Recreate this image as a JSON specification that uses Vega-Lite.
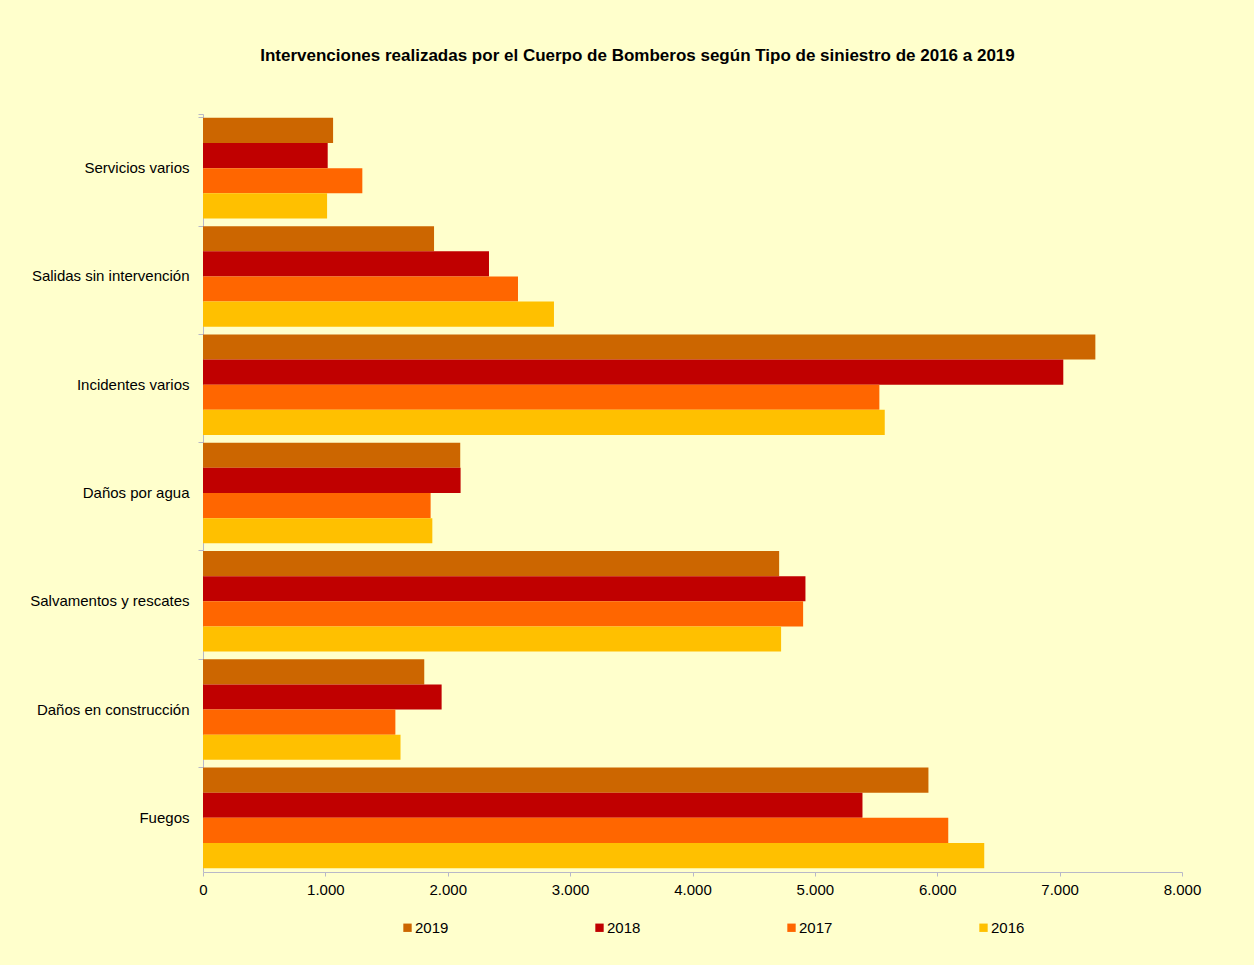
{
  "$schema": "https://vega.github.io/schema/vega-lite/v6.json",
  "width": 979,
  "height": 758,
  "autosize": {"type": "none"},
  "padding": {"left": 203, "top": 114, "right": 72, "bottom": 93},
  "background": "#FFFFCC",
  "title": {
    "text": "Intervenciones realizadas por el Cuerpo de Bomberos según Tipo de siniestro de 2016 a 2019",
    "fontSize": 17,
    "fontWeight": "bold",
    "font": "Liberation Sans",
    "color": "#000000",
    "offset": 42,
    "dx": -55
  },
  "data": {
    "values": [
      {"tipo": "Servicios varios", "anio": "2019", "valor": 1063},
      {"tipo": "Servicios varios", "anio": "2018", "valor": 1019},
      {"tipo": "Servicios varios", "anio": "2017", "valor": 1302},
      {"tipo": "Servicios varios", "anio": "2016", "valor": 1014},
      {"tipo": "Salidas sin intervención", "anio": "2019", "valor": 1888},
      {"tipo": "Salidas sin intervención", "anio": "2018", "valor": 2337},
      {"tipo": "Salidas sin intervención", "anio": "2017", "valor": 2574},
      {"tipo": "Salidas sin intervención", "anio": "2016", "valor": 2868},
      {"tipo": "Incidentes varios", "anio": "2019", "valor": 7292},
      {"tipo": "Incidentes varios", "anio": "2018", "valor": 7030},
      {"tipo": "Incidentes varios", "anio": "2017", "valor": 5527},
      {"tipo": "Incidentes varios", "anio": "2016", "valor": 5571},
      {"tipo": "Daños por agua", "anio": "2019", "valor": 2102},
      {"tipo": "Daños por agua", "anio": "2018", "valor": 2105},
      {"tipo": "Daños por agua", "anio": "2017", "valor": 1860},
      {"tipo": "Daños por agua", "anio": "2016", "valor": 1874},
      {"tipo": "Salvamentos y rescates", "anio": "2019", "valor": 4708},
      {"tipo": "Salvamentos y rescates", "anio": "2018", "valor": 4923},
      {"tipo": "Salvamentos y rescates", "anio": "2017", "valor": 4904},
      {"tipo": "Salvamentos y rescates", "anio": "2016", "valor": 4724},
      {"tipo": "Daños en construcción", "anio": "2019", "valor": 1808},
      {"tipo": "Daños en construcción", "anio": "2018", "valor": 1950},
      {"tipo": "Daños en construcción", "anio": "2017", "valor": 1572},
      {"tipo": "Daños en construcción", "anio": "2016", "valor": 1614},
      {"tipo": "Fuegos", "anio": "2019", "valor": 5928},
      {"tipo": "Fuegos", "anio": "2018", "valor": 5389},
      {"tipo": "Fuegos", "anio": "2017", "valor": 6090},
      {"tipo": "Fuegos", "anio": "2016", "valor": 6384}
    ]
  },
  "mark": {"type": "bar"},
  "encoding": {
    "y": {
      "field": "tipo",
      "type": "nominal",
      "sort": ["Servicios varios", "Salidas sin intervención", "Incidentes varios", "Daños por agua", "Salvamentos y rescates", "Daños en construcción", "Fuegos"],
      "scale": {"paddingInner": 0.071, "paddingOuter": 0.0355},
      "axis": {
        "title": null,
        "bandPosition": 0,
        "tickExtra": true,
        "tickSize": 5,
        "labelPadding": 9,
        "labelFontSize": 15,
        "labelFont": "Liberation Sans",
        "labelColor": "#000000",
        "domainColor": "#B8B8C8",
        "tickColor": "#B8B8C8",
        "labelLimit": 300
      }
    },
    "yOffset": {
      "field": "anio",
      "type": "nominal",
      "sort": ["2019", "2018", "2017", "2016"],
      "scale": {"paddingInner": 0, "paddingOuter": 0}
    },
    "x": {
      "field": "valor",
      "type": "quantitative",
      "scale": {"domain": [0, 8000], "nice": false},
      "axis": {
        "title": null,
        "values": [0, 1000, 2000, 3000, 4000, 5000, 6000, 7000, 8000],
        "format": ",d",
        "grid": false,
        "labelFlush": false,
        "tickSize": 4,
        "labelPadding": 6,
        "labelFontSize": 15,
        "labelFont": "Liberation Sans",
        "labelColor": "#000000",
        "domainColor": "#B8B8C8",
        "tickColor": "#B8B8C8"
      }
    },
    "color": {
      "field": "anio",
      "type": "nominal",
      "sort": ["2019", "2018", "2017", "2016"],
      "scale": {"domain": ["2019", "2018", "2017", "2016"], "range": ["#CC6600", "#C00000", "#FF6600", "#FFC000"]},
      "legend": {
        "title": null,
        "orient": "none",
        "direction": "horizontal",
        "columns": 4,
        "legendX": 197,
        "legendY": 806,
        "symbolType": "square",
        "symbolSize": 70,
        "symbolStrokeWidth": 0,
        "labelOffset": 0,
        "columnPadding": 143,
        "labelFontSize": 15,
        "labelFont": "Liberation Sans",
        "labelColor": "#000000"
      }
    }
  },
  "config": {
    "view": {"stroke": null},
    "font": "Liberation Sans",
    "locale": {
      "number": {"decimal": ",", "thousands": ".", "grouping": [3], "currency": ["", " €"]}
    }
  }
}
